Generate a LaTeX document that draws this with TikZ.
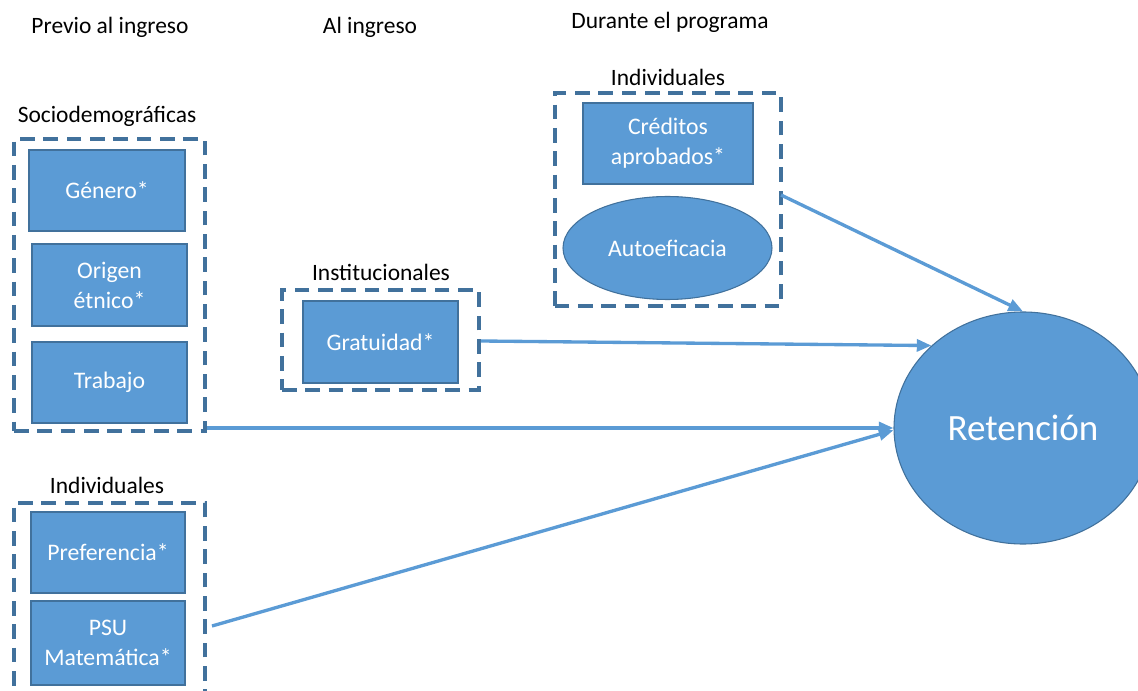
\documentclass[tikz,border=0pt]{standalone}
\usepackage{fontspec}
\setmainfont{Carlito}
\usetikzlibrary{shapes.geometric,arrows.meta}
\definecolor{boxfill}{HTML}{5B9BD5}
\definecolor{boxline}{HTML}{41719C}
\definecolor{dashc}{HTML}{41719C}
\definecolor{arrc}{HTML}{5B9BD5}
\def\pxu{0.75pt}
\tikzset{
  varbox/.style={draw=boxline, line width=0.8pt, fill=boxfill, text=white, align=center,
    font=\fontsize{17.8}{22.5}\selectfont, inner sep=0pt},
  grpbox/.style={draw=dashc, line width=3pt, dash pattern=on 11pt off 6.5pt, inner sep=0pt},
  lbl/.style={font=\fontsize{17.6}{21}\selectfont, text=black, inner sep=0pt},
  conn/.style={draw=arrc, line width=2.5pt, -{Triangle[length=11pt,width=9pt]}},
}
\begin{document}
\begin{tikzpicture}[x=0.75pt,y=-0.75pt]
\useasboundingbox (0,0) rectangle (1138,691);
\clip (0,0) rectangle (1138,691);
% titles
\node[lbl] (t1) at (110,27) {Previo al ingreso};
\node[lbl] (t2) at (370,27) {Al ingreso};
\node[lbl] (t3) at (670,22) {Durante el programa};
% group 1
\node[lbl] (l1) at (107,116) {Sociodemográficas};
\node[grpbox, minimum width=191*\pxu, minimum height=292*\pxu] (g1) at (109.5,285) {};
\node[varbox, minimum width=156*\pxu, minimum height=81*\pxu] (gen) at (107,190.5) {Género*};
\node[varbox, minimum width=155*\pxu, minimum height=82*\pxu] (ori) at (109.5,285) {Origen\\étnico*};
\node[varbox, minimum width=155*\pxu, minimum height=81*\pxu] (tra) at (109.5,382.5) {Trabajo};
% group 2
\node[lbl] (l2) at (107,485) {Individuales};
\node[grpbox, minimum width=191*\pxu, minimum height=220*\pxu] (g2) at (109.5,613) {};
\node[varbox, minimum width=154*\pxu, minimum height=81*\pxu] (pre) at (108,552.5) {Preferencia*};
\node[varbox, minimum width=154*\pxu, minimum height=84*\pxu] (psu) at (108,643) {PSU\\Matemática*};
% group 3
\node[lbl] (l3) at (381,272) {Institucionales};
\node[grpbox, minimum width=197*\pxu, minimum height=100*\pxu] (g3) at (380.5,340) {};
\node[varbox, minimum width=155*\pxu, minimum height=82*\pxu] (gra) at (380.5,342) {Gratuidad*};
% group 4
\node[lbl] (l4) at (668,77) {Individuales};
\node[grpbox, minimum width=226*\pxu, minimum height=213*\pxu] (g4) at (667.5,199.5) {};
\node[varbox, minimum width=170*\pxu, minimum height=81*\pxu] (cre) at (668,143.5) {Créditos\\aprobados*};
\node[varbox, ellipse, minimum width=209*\pxu, minimum height=103*\pxu] (aut) at (667.5,248) {Autoeficacia};
% retention
\node[varbox, ellipse, minimum width=258*\pxu, minimum height=232*\pxu,
  font=\fontsize{27.8}{32}\selectfont] (ret) at (1023,428) {Retención};
% connectors
\coordinate (s4) at (781,195);
\coordinate (s3) at (481,341);
\coordinate (s2) at (212,626);
\draw[conn] (s4) -- (ret.north);
\draw[conn] (s3) -- (ret.138.6);
\draw[conn] (g1.east |- ret.west) -- (ret.west);
\draw[conn] (s2) -- (ret.181);
\end{tikzpicture}
\end{document}
